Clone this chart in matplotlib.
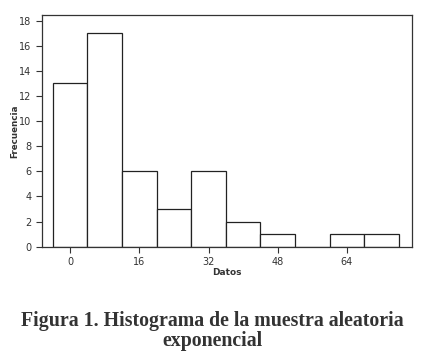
import numpy as np
import matplotlib.pyplot as plt

# histogram bins (centers) and counts
bin_centers = [0, 8, 16, 24, 32, 40, 48, 56, 64, 72]
counts = [13, 17, 6, 3, 6, 2, 1, 0, 1, 1]
bin_width = 8
x_ticks = [0, 16, 32, 48, 64]
y_ticks = list(range(0, 19, 2))

fig = plt.figure(figsize=(4.25, 3.6), dpi=100)
ax = fig.add_axes([0.099, 0.315, 0.871, 0.643])

ax.bar(bin_centers, counts, width=bin_width, facecolor='white',
       edgecolor='#222222', linewidth=0.9)

ax.set_xlim(-6.5, 79.1)
ax.set_ylim(0, 18.45)
ax.set_xticks(x_ticks)
ax.set_yticks(y_ticks)
ax.tick_params(direction='out', length=4, width=0.8, labelsize=7,
               colors='#333333', labelcolor='#333333')
for s in ax.spines.values():
    s.set_color('#333333')
    s.set_linewidth(0.9)

ax.set_xlabel('Datos', fontsize=6.5, fontweight='bold', color='#333333', labelpad=1)
ax.set_ylabel('Frecuencia', fontsize=6.3, fontweight='bold', color='#333333', labelpad=0)

fig.text(0.5, 0.08, 'Figura 1. Histograma de la muestra aleatoria\nexponencial',
         ha='center', va='center', fontsize=14.3, fontweight='bold',
         family='Liberation Serif', color='#333333', linespacing=0.98)

fig.savefig('out.png', dpi=100)
